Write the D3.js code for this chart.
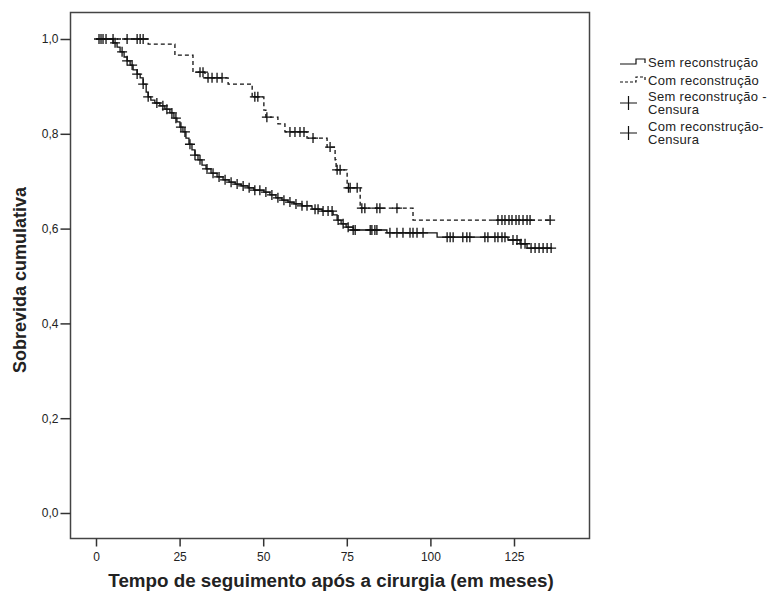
<!DOCTYPE html>
<html>
<head>
<meta charset="utf-8">
<style type="text/css">
    body { margin: 0; background: #fff; }
    text { font-family: "Liberation Sans", Arial, sans-serif; fill: #222; }
    .tick text { font-size: 12px; }
    .axisTitle { font-size: 18px; font-weight: bold; }
    .legend text { font-size: 13px; letter-spacing: 0.3px; }
</style>
<script src="https://d3js.org/d3.v7.min.js"></script>
</head>
<body>
<svg id="chart" width="770" height="599"></svg>
<script type="text/javascript">
// Kaplan-Meier curves, values
const semStepTime = [5.1, 6.3, 7.2, 8.4, 9.3, 10.2, 11.1, 12.3, 13.2, 14.1, 15.0, 15.6, 16.4, 17.6, 19.1, 20.6,
    22.1, 23.3, 24.2, 25.1, 26.0, 26.9, 27.8, 28.7, 29.6, 30.5, 31.7, 32.9, 34.4, 36.2, 38.0, 39.8, 41.6,
    43.4, 45.5, 47.2, 50.2, 52.0, 53.8, 55.6, 57.4, 59.2, 61.6, 64.6, 67.6, 70.9, 72.1, 73.3, 74.8, 76.9,
    87.0, 102.0, 123.2, 126.8, 128.9];
const semStepSurv = [0.992, 0.983, 0.973, 0.962, 0.954, 0.945, 0.935, 0.926, 0.918, 0.905, 0.888, 0.878,
    0.871, 0.865, 0.859, 0.852, 0.844, 0.833, 0.825, 0.814, 0.804, 0.791, 0.778, 0.766, 0.755, 0.745, 0.734,
    0.726, 0.717, 0.709, 0.703, 0.698, 0.694, 0.690, 0.686, 0.681, 0.677, 0.671, 0.665, 0.660, 0.656, 0.652,
    0.648, 0.641, 0.637, 0.629, 0.618, 0.610, 0.603, 0.597, 0.591, 0.582, 0.576, 0.568, 0.559];
const semCensorTime = [5.7, 7.8, 9.3, 10.8, 12.3, 14.1, 15.6, 18.2, 20.0, 21.2, 22.7, 23.9, 25.4, 26.6, 28.1,
    29.6, 31.1, 33.2, 35.0, 36.8, 38.6, 40.4, 42.2, 44.0, 45.8, 47.5, 49.0, 50.8, 52.6, 54.4, 56.2, 58.0,
    59.8, 61.6, 63.1, 65.5, 66.4, 67.9, 69.4, 70.6, 72.4, 73.9, 75.4, 76.9, 77.5, 82.0, 82.5, 83.4, 84.0,
    87.9, 90.0, 91.8, 93.9, 94.8, 96.0, 97.8, 105.0, 105.9, 106.8, 109.7, 110.9, 111.8, 116.3, 117.2, 119.3,
    120.2, 121.4, 122.3, 124.7, 125.9, 127.1, 128.3, 130.1, 131.3, 132.5, 133.7, 134.9, 136.1];

const comStepTime = [15.6, 23.6, 29.0, 32.6, 39.5, 46.7, 50.2, 50.8, 54.4, 56.5, 63.1, 69.1, 71.5, 71.8,
    75.1, 79.0, 94.8];
const comStepSurv = [0.989, 0.966, 0.930, 0.918, 0.905, 0.878, 0.850, 0.835, 0.821, 0.804, 0.791, 0.772,
    0.745, 0.724, 0.686, 0.643, 0.618];
const comCensorTime = [0.9, 1.5, 2.1, 3.0, 5.1, 9.3, 12.3, 13.2, 14.1, 31.1, 32.0, 33.5, 34.7, 36.2, 37.7,
    47.5, 48.4, 51.1, 58.0, 59.5, 61.0, 62.2, 64.9, 70.0, 72.1, 73.0, 75.5, 76.0, 78.1, 79.5, 80.4, 84.0,
    84.9, 90.0, 120.2, 121.4, 122.3, 123.5, 124.4, 125.6, 126.5, 127.7, 128.9, 129.8, 135.8];

const xTicks = [0, 25, 50, 75, 100, 125];
const yTicks = [0, 0.2, 0.4, 0.6, 0.8, 1.0];
const legendLabels = [["Sem reconstrução"], ["Com reconstrução"], ["Sem reconstrução -", "Censura"], ["Com reconstrução-", "Censura"]];

const svg = d3.select('#chart');
const frame = {left: 70.5, right: 589.5, top: 12.5, bottom: 538.5};

const x = d3.scaleLinear().domain([0, 125]).range([96, 514]);
const y = d3.scaleLinear().domain([0, 1]).range([513, 39]);

// frame
svg.append('rect')
    .attr('x', frame.left).attr('y', frame.top)
    .attr('width', frame.right - frame.left).attr('height', frame.bottom - frame.top)
    .attr('fill', 'none').attr('stroke', '#444').attr('stroke-width', 1.5);

// axes
const yAxis = svg.append('g')
    .attr('transform', 'translate(' + frame.left + ',0)')
    .call(d3.axisLeft(y).tickValues(yTicks).tickSize(10).tickPadding(2)
        .tickFormat(d => d3.format('.1f')(d).replace('.', ',')));
const xAxis = svg.append('g')
    .attr('transform', 'translate(0,' + frame.bottom + ')')
    .call(d3.axisBottom(x).tickValues(xTicks).tickSize(8).tickPadding(6));
[xAxis, yAxis].forEach(a => {
    a.select('.domain').remove();
    a.selectAll('.tick line').attr('stroke', '#333').attr('stroke-width', 1.5);
    a.selectAll('.tick text').attr('font-family', null).attr('font-size', null);
});

svg.append('text').attr('class', 'axisTitle')
    .attr('x', 331).attr('y', 587).attr('text-anchor', 'middle')
    .style('font-size', '18.8px')
    .text('Tempo de seguimento após a cirurgia (em meses)');
svg.append('text').attr('class', 'axisTitle')
    .attr('transform', 'translate(26,280) rotate(-90)').attr('text-anchor', 'middle')
    .text('Sobrevida cumulativa');

// survival value at time t (step function)
function survAt(times, surv, t) {
    let s = 1;
    times.forEach((d, i) => { if (d <= t) s = surv[i]; });
    return s;
}

function drawCurve(times, surv, censor, dash) {
    const end = d3.max(censor);
    const pts = [[0, 1]].concat(times.map((t, i) => [t, surv[i]]));
    pts.push([end, surv[surv.length - 1]]);
    svg.append('path')
        .datum(pts)
        .attr('fill', 'none').attr('stroke', '#111').attr('stroke-width', 1.3)
        .attr('stroke-dasharray', dash)
        .attr('d', d3.line().x(d => x(d[0])).y(d => y(d[1])).curve(d3.curveStepAfter));
    svg.append('g').selectAll('path')
        .data(censor)
        .enter()
        .append('path')
        .attr('fill', 'none').attr('stroke', '#111').attr('stroke-width', 1.3)
        .attr('d', t => {
            const cx = x(t), cy = y(survAt(times, surv, t));
            return 'M' + (cx - 5) + ',' + cy + 'H' + (cx + 5) + 'M' + cx + ',' + (cy - 5) + 'V' + (cy + 5);
        });
}

drawCurve(comStepTime, comStepSurv, comCensorTime, '4,3');
drawCurve(semStepTime, semStepSurv, semCensorTime, null);

// legend
const legend = svg.append('g').attr('class', 'legend');
const rowY = [62, 80, 103, 133];
legend.append('path').attr('fill', 'none').attr('stroke', '#111').attr('stroke-width', 1.2)
    .attr('d', 'M620,' + (rowY[0] + 2) + 'H636V' + (rowY[0] - 3) + 'H645V' + (rowY[0] + 1));
legend.append('path').attr('fill', 'none').attr('stroke', '#111').attr('stroke-width', 1.2)
    .attr('stroke-dasharray', '3,2')
    .attr('d', 'M620,' + (rowY[1] + 2) + 'H636V' + (rowY[1] - 3) + 'H645V' + (rowY[1] + 1));
[2, 3].forEach(i => {
    legend.append('path').attr('fill', 'none').attr('stroke', '#111').attr('stroke-width', 1.2)
        .attr('d', 'M620,' + rowY[i] + 'H637M628.5,' + (rowY[i] - 7) + 'V' + (rowY[i] + 7));
});
legendLabels.forEach((lines, i) => {
    const t = legend.append('text').attr('x', 648)
        .attr('y', rowY[i] + 4.5 - (lines.length - 1) * 7);
    lines.forEach((l, j) => t.append('tspan').attr('x', 648).attr('dy', j ? 13.5 : 0).text(l));
});
</script>
</body>
</html>
